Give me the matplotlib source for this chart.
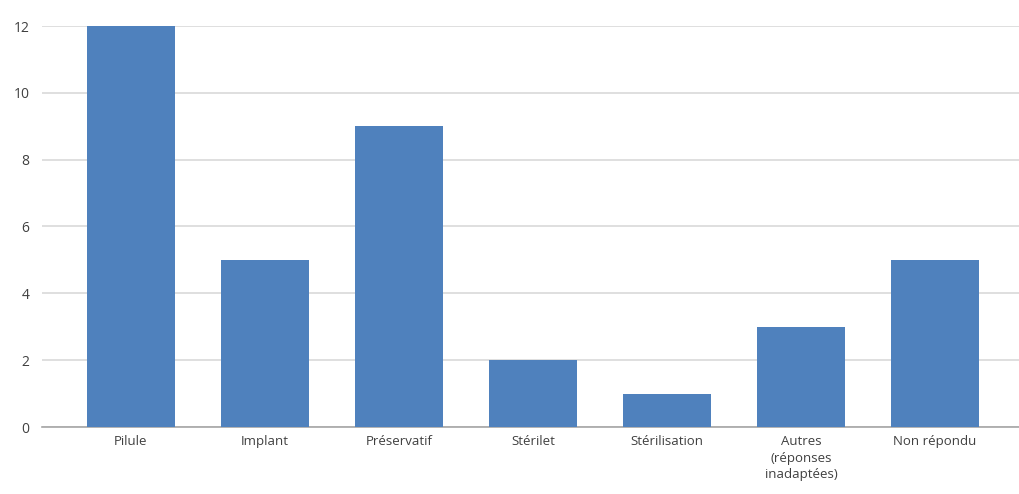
import matplotlib
matplotlib.use("Agg")
import matplotlib.pyplot as plt

categories = ["Pilule", "Implant", "Préservatif", "Stérilet", "Stérilisation",
              "Autres\n(réponses\ninadaptées)", "Non répondu"]
values = [12, 5, 9, 2, 1, 3, 5]
yticks = [0, 2, 4, 6, 8, 10, 12]

plt.rcParams['font.family'] = ['Open Sans', 'DejaVu Sans']

fig = plt.figure(figsize=(10.19, 4.94), dpi=100)
ax = fig.add_axes([42/1019, 67/494, 977/1019, 401/494])

x = list(range(len(categories)))
ax.bar(x, values, width=0.65, color="#4f81bd", zorder=3)

ax.set_xlim(-0.664, 6.627)
ax.set_ylim(0, 12)
ax.set_yticks(yticks)
ax.set_yticklabels([str(v) for v in yticks], fontsize=10, color="#404040")
ax.set_xticks(x)
ax.set_xticklabels(categories, fontsize=9.5, color="#404040", linespacing=1.35)

ax.grid(axis="y", color="#d9d9d9", linewidth=1.2, zorder=0)
for s in ["top", "right", "left"]:
    ax.spines[s].set_visible(False)
ax.spines["bottom"].set_color("#a6a6a6")
ax.spines["bottom"].set_linewidth(1.2)
ax.tick_params(axis="both", length=0)
ax.tick_params(axis="y", pad=9)
ax.tick_params(axis="x", pad=6)

fig.savefig("out.png", dpi=100, facecolor="white")
